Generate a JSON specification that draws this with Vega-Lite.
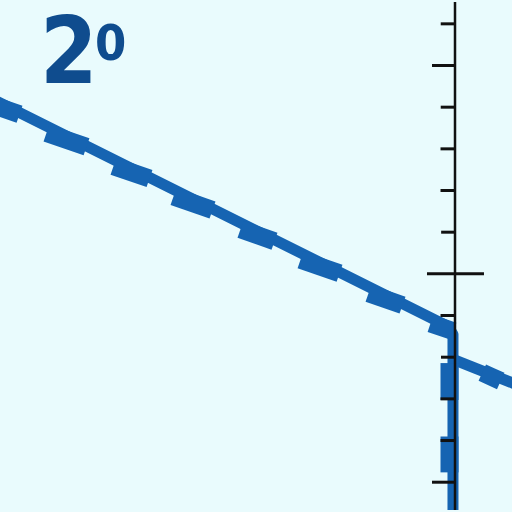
{
  "$schema": "https://vega.github.io/schema/vega-lite/v6.json",
  "description": "Sketch: sloping blue trace meeting a ticked vertical axis",
  "autosize": {"type": "fit", "contains": "padding"},
  "width": 512,
  "height": 512,
  "padding": 0,
  "background": "#e9fbfd",
  "config": {"view": {"stroke": null}},
  "datasets": {
    "trace": [
      {"i": 0, "u": -10.952, "v": 4.164},
      {"i": 1, "u": -0.167, "v": -1.26},
      {"i": 2, "u": -0.048, "v": -1.452},
      {"i": 3, "u": -0.048, "v": -5.857}
    ],
    "tail": [
      {"i": 0, "u": 0, "v": -2.071},
      {"i": 1, "u": 1.429, "v": -2.643}
    ],
    "blocks": [
      {"block": 1, "i": 0, "u": -10.905, "v": 4.019}, {"block": 1, "i": 1, "u": -10.571, "v": 3.902},
      {"block": 2, "i": 0, "u": -9.524, "v": 3.309}, {"block": 2, "i": 1, "u": -8.976, "v": 3.119},
      {"block": 3, "i": 0, "u": -7.929, "v": 2.514}, {"block": 3, "i": 1, "u": -7.476, "v": 2.357},
      {"block": 4, "i": 0, "u": -6.5, "v": 1.788}, {"block": 4, "i": 1, "u": -5.976, "v": 1.604},
      {"block": 5, "i": 0, "u": -4.905, "v": 0.997}, {"block": 5, "i": 1, "u": -4.5, "v": 0.854},
      {"block": 6, "i": 0, "u": -3.476, "v": 0.266}, {"block": 6, "i": 1, "u": -2.952, "v": 0.085},
      {"block": 7, "i": 0, "u": -1.857, "v": -0.536}, {"block": 7, "i": 1, "u": -1.452, "v": -0.679},
      {"block": 8, "i": 0, "u": -0.381, "v": -1.26}, {"block": 8, "i": 1, "u": -0.238, "v": -1.308},
      {"block": 9, "i": 0, "u": 0.845, "v": -2.459}, {"block": 9, "i": 1, "u": 0.893, "v": -2.481},
      {"block": 10, "i": 0, "u": -0.131, "v": -2.357}, {"block": 10, "i": 1, "u": -0.131, "v": -2.81},
      {"block": 11, "i": 0, "u": -0.131, "v": -4.119}, {"block": 11, "i": 1, "u": -0.131, "v": -4.548}
    ],
    "ticks": [
      {"v": 6, "u0": -0.34, "u1": 0},
      {"v": 5, "u0": -0.548, "u1": 0},
      {"v": 4, "u0": -0.34, "u1": 0},
      {"v": 3, "u0": -0.345, "u1": 0},
      {"v": 2, "u0": -0.345, "u1": 0},
      {"v": 1, "u0": -0.33, "u1": 0},
      {"v": 0, "u0": -0.667, "u1": 0.69},
      {"v": -1, "u0": -0.345, "u1": 0},
      {"v": -2, "u0": -0.333, "u1": 0},
      {"v": -3, "u0": -0.345, "u1": 0},
      {"v": -4, "u0": -0.345, "u1": 0},
      {"v": -5, "u0": -0.548, "u1": 0}
    ]
  },
  "encoding": {
    "x": {"field": "u", "type": "quantitative", "axis": null, "scale": {"domain": [-10.833, 1.357], "nice": false, "zero": false}},
    "y": {"field": "v", "type": "quantitative", "axis": null, "scale": {"domain": [-5.667, 6.524], "nice": false, "zero": false}}
  },
  "layer": [
    {
      "data": {"name": "trace"},
      "mark": {"type": "line", "color": "#1664b2", "strokeWidth": 11, "strokeJoin": "round", "clip": true},
      "encoding": {"order": {"field": "i"}}
    },
    {
      "data": {"name": "tail"},
      "mark": {"type": "line", "color": "#1664b2", "strokeWidth": 11, "clip": true},
      "encoding": {"order": {"field": "i"}}
    },
    {
      "data": {"name": "blocks"},
      "mark": {"type": "line", "color": "#1664b2", "strokeWidth": 18, "strokeCap": "square", "strokeJoin": "round", "clip": true},
      "encoding": {"detail": {"field": "block"}, "order": {"field": "i"}}
    },
    {
      "data": {"values": [{"u": 0}]},
      "mark": {"type": "rule", "color": "#111111", "strokeWidth": 2.5},
      "encoding": {"y": null}
    },
    {
      "data": {"name": "ticks"},
      "mark": {"type": "rule", "color": "#111111", "strokeWidth": 3},
      "encoding": {
        "x": {"field": "u0", "type": "quantitative"},
        "x2": {"field": "u1"}
      }
    },
    {
      "data": {"values": [{"label": "2", "u": -9.881, "v": 4.571}]},
      "mark": {"type": "text", "align": "left", "baseline": "alphabetic", "font": "DejaVu Sans Condensed, Roboto, sans-serif", "fontWeight": "bold", "fontSize": 92, "color": "#0f4c8e"},
      "encoding": {"text": {"field": "label"}}
    },
    {
      "data": {"values": [{"label": "0", "u": -8.571, "v": 5.143}]},
      "mark": {"type": "text", "align": "left", "baseline": "alphabetic", "font": "DejaVu Sans Condensed, Roboto, sans-serif", "fontWeight": "bold", "fontSize": 50, "color": "#0f4c8e"},
      "encoding": {"text": {"field": "label"}}
    }
  ]
}
